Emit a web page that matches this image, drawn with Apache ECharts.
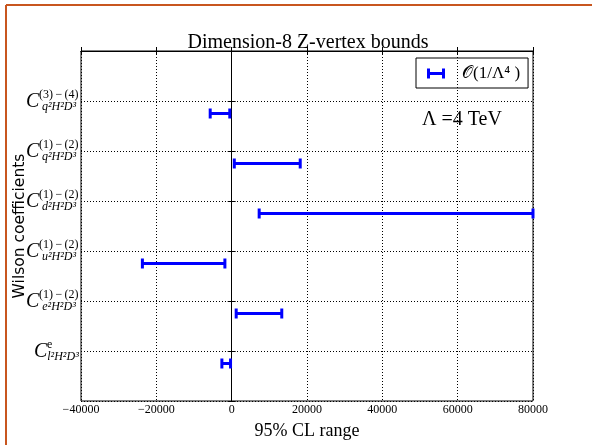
<!DOCTYPE html>
<html>
<head>
<meta charset="utf-8">
<script src="https://cdn.jsdelivr.net/npm/echarts@6/dist/echarts.min.js"></script>
<style>
  html, body { margin: 0; padding: 0; background: #fff; }
  #chart { width: 592px; height: 445px; }
</style>
</head>
<body>
<div id="chart"></div>
<script>
// Wilson coefficient labels: superscript and subscript parts of C^{sup}_{sub}
const supLabels = ['(3)\u2009\u2212\u2009(4)', '(1)\u2009\u2212\u2009(2)', '(1)\u2009\u2212\u2009(2)', '(1)\u2009\u2212\u2009(2)', '(1)\u2009\u2212\u2009(2)', 'e'];
const subLabels = ['q\u00b2H\u00b2D\u00b3', 'q\u00b2H\u00b2D\u00b3', 'd\u00b2H\u00b2D\u00b3', 'u\u00b2H\u00b2D\u00b3', 'e\u00b2H\u00b2D\u00b3', 'l\u00b2H\u00b2D\u00b3'];

// 95% CL interval for each coefficient, O(1/Λ^4), Λ = 4 TeV
const lowerBounds = [-5700, 700, 7300, -23700, 1200, -2600];
const upperBounds = [-500, 18200, 80000, -1800, 13300, -300];

// x-axis ticks
const xMin = -40000, xMax = 80000, xStep = 20000;

const BLUE = '#0000ff';
const SERIF = '"Liberation Serif", "DejaVu Serif", serif';
const ROW_OFFSET = 0.25;   // interval drawn slightly below its label row

// measure script widths so super/subscripts share a left edge after the C
const measureCtx = document.createElement('canvas').getContext('2d');
function textWidth(str, font) { measureCtx.font = font; return measureCtx.measureText(str).width; }
const SUP_FONT = '12px ' + SERIF;
const SUB_FONT = 'italic 12px ' + SERIF;
const C_WIDTH = 13;
const LINE_H = 12;

const rich = {
  c: { fontFamily: SERIF, fontStyle: 'italic', fontSize: 20, color: '#000', lineHeight: LINE_H, width: C_WIDTH, align: 'left', verticalAlign: 'top', padding: [3, 0, 0, 0] },
  cgap: { fontSize: 12, lineHeight: LINE_H, width: C_WIDTH }
};
supLabels.forEach((s, i) => {
  const w = Math.ceil(Math.max(textWidth(s, SUP_FONT), textWidth(subLabels[i], SUB_FONT)));
  rich['sup' + i] = { fontFamily: SERIF, fontSize: 12, color: '#000', lineHeight: LINE_H, width: w, align: 'left' };
  rich['sub' + i] = { fontFamily: SERIF, fontStyle: 'italic', fontSize: 12, color: '#000', lineHeight: LINE_H, width: w, align: 'left' };
});

const intervals = lowerBounds.map((lo, i) => [i + 1, lo, upperBounds[i]]);

function minusFmt(v) { return v < 0 ? '\u2212' + Math.abs(v) : String(v); }

const chart = echarts.init(document.getElementById('chart'), null, { renderer: 'canvas' });

chart.setOption({
  animation: false,
  backgroundColor: '#fff',
  title: [
    {
      text: 'Dimension-8 Z-vertex bounds',
      left: 303, top: 28, textAlign: 'center',
      textStyle: { fontFamily: SERIF, fontWeight: 'normal', fontSize: 20, color: '#000' }
    },
    {
      text: '\u039b =4 TeV',
      left: 417, top: 105,
      textStyle: { fontFamily: SERIF, fontWeight: 'normal', fontSize: 20, color: '#000' }
    }
  ],
  legend: {
    left: 416, top: 58,
    orient: 'vertical',
    padding: [7, 8, 6, 11],
    borderColor: '#000', borderWidth: 1,
    itemWidth: 18, itemHeight: 10,
    icon: 'path://M0,0H3V3.5H15V0H18V10H15V6.5H3V10H0Z',
    textStyle: { fontFamily: SERIF, fontSize: 17, color: '#000', padding: [0, 0, 0, 12] },
    data: ['\ud835\udcaa(1/\u039b\u2074 )']
  },
  grid: { left: 81, top: 51, width: 452, height: 350, show: true, borderColor: '#000', borderWidth: 1, containLabel: false, outerBoundsMode: 'none' },
  xAxis: [
    {
      type: 'value', min: xMin, max: xMax, interval: xStep, position: 'bottom',
      name: '95% CL range', nameLocation: 'middle', nameGap: 21, nameMoveOverlap: false,
      nameTextStyle: { fontFamily: SERIF, fontSize: 18, color: '#000' },
      axisLine: { show: true, lineStyle: { color: '#000', width: 1 } },
      axisTick: { show: true, inside: true, length: 4, lineStyle: { color: '#000' } },
      axisLabel: { fontFamily: SERIF, fontSize: 12, color: '#000', margin: 3, formatter: minusFmt },
      splitLine: { show: true, lineStyle: { color: '#000', type: [1, 2], width: 1 } }
    },
    {
      type: 'value', min: xMin, max: xMax, interval: xStep, position: 'top',
      axisLine: { show: true, lineStyle: { color: '#000' } },
      axisTick: { show: true, inside: true, length: 4, lineStyle: { color: '#000' } },
      axisLabel: { show: false }, splitLine: { show: false }
    }
  ],
  yAxis: [
    {
      type: 'value', min: 0, max: 7, interval: 1, inverse: true, position: 'left',
      name: 'Wilson coefficients', nameLocation: 'middle', nameGap: 53, nameRotate: 90, nameMoveOverlap: false,
      nameTextStyle: { fontFamily: '"DejaVu Sans", sans-serif', fontSize: 15.5, color: '#000' },
      axisLine: { show: true, lineStyle: { color: '#000', width: 1 } },
      axisTick: { show: true, inside: true, length: 4, lineStyle: { color: '#000' } },
      axisLabel: {
        margin: 2, rich,
        formatter: (v) => {
          const i = v - 1;
          if (i < 0 || i >= supLabels.length) return '';
          return '{c|C}{sup' + i + '|' + supLabels[i] + '}\n{cgap| }{sub' + i + '|' + subLabels[i] + '}';
        }
      },
      splitLine: { show: true, lineStyle: { color: '#000', type: [1, 2], width: 1 } }
    },
    {
      type: 'value', min: 0, max: 7, interval: 1, inverse: true, position: 'right',
      axisLine: { show: true, lineStyle: { color: '#000' } },
      axisTick: { show: true, inside: true, length: 4, lineStyle: { color: '#000' } },
      axisLabel: { show: false }, splitLine: { show: false }
    }
  ],
  graphic: [
    // page frame
    { type: 'line', shape: { x1: 6, y1: 5, x2: 592, y2: 5 }, style: { stroke: '#c8561f', lineWidth: 2 }, z: 100 },
    { type: 'line', shape: { x1: 6, y1: 5, x2: 6, y2: 445 }, style: { stroke: '#c8561f', lineWidth: 2 }, z: 100 }
  ],
  series: [{
    name: '\ud835\udcaa(1/\u039b\u2074 )',
    type: 'custom',
    coordinateSystem: 'cartesian2d',
    xAxisIndex: 0, yAxisIndex: 0,
    itemStyle: { color: BLUE },
    encode: { x: [1, 2], y: 0 },
    data: intervals,
    clip: false,
    renderItem: (params, api) => {
      const y = api.value(0) + ROW_OFFSET;
      const a = api.coord([api.value(1), y]);
      const b = api.coord([api.value(2), y]);
      const h = 5;
      const st = { stroke: BLUE, lineWidth: 3 };
      return {
        type: 'group',
        children: [
          { type: 'line', shape: { x1: a[0], y1: a[1], x2: b[0], y2: b[1] }, style: st },
          { type: 'line', shape: { x1: a[0], y1: a[1] - h, x2: a[0], y2: a[1] + h }, style: st },
          { type: 'line', shape: { x1: b[0], y1: b[1] - h, x2: b[0], y2: b[1] + h }, style: st }
        ]
      };
    }
  }]
});
</script>
</body>
</html>
